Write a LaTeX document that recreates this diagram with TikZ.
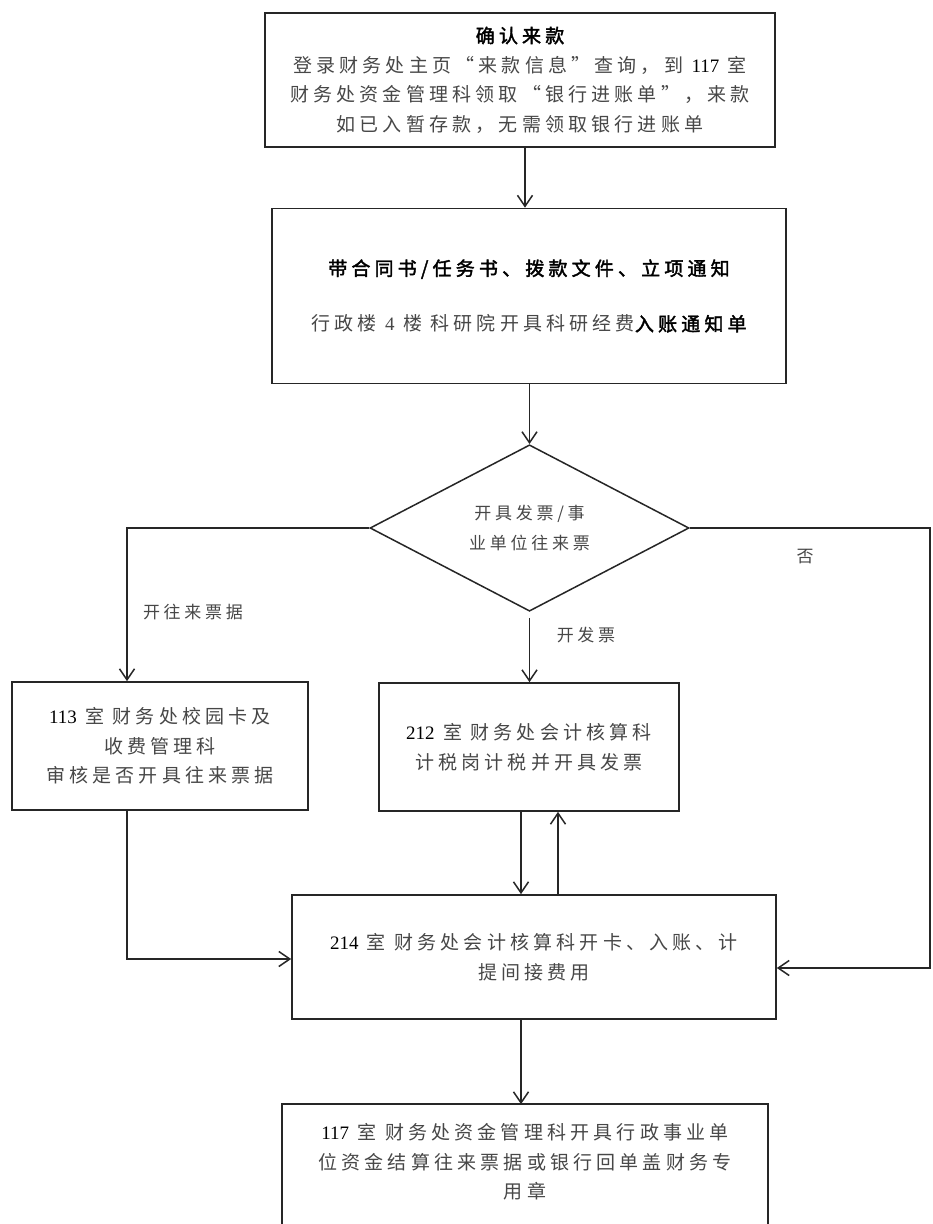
\documentclass[tikz,border=0pt]{standalone}
\usepackage{fontspec}
\setmainfont{Liberation Serif}
\newfontfamily\cjk{Noto Sans CJK SC}[LetterSpace=22]
\newfontfamily\cjkb{Noto Sans CJK SC}[LetterSpace=22,FakeBold=2]
\usetikzlibrary{arrows.meta,shapes.geometric}
\definecolor{txt}{gray}{0.28}
\begin{document}
\begin{tikzpicture}[x=1pt,y=-1pt,
  box/.style={draw=black!85, line width=1.7pt, align=center, inner sep=0pt,
    font=\cjk\fontsize{19}{29.5}\selectfont, text=txt},
  conn/.style={line width=1.5pt, draw=black!85},
  arr/.style={conn, -{Straight Barb[length=11pt,width=15pt]}},
  lbl/.style={font=\cjk\fontsize{17}{20}\selectfont, text=txt}]
\useasboundingbox (0,0) rectangle (933,1224);
\fill[white] (0,0) rectangle (933,1224);

\node[box, minimum width=510, minimum height=134] (b1) at (520,80)
  {{\cjkb\color{black}确认来款}\\
   登录财务处主页“来款信息”查询，到 {\rmfamily\color{black}117} 室\\
   财务处资金管理科领取“银行进账单”，来款\\
   如已入暂存款，无需领取银行进账单};

\node[box, minimum width=514, minimum height=175] (b2) at (529,296)
  {{\cjkb\color{black}带合同书/任务书、拨款文件、立项通知}\\[26pt]
   行政楼 {\rmfamily 4} 楼 科研院开具科研经费{\cjkb\color{black}入账通知单}};

\node[diamond, draw=black!85, line width=1.5pt, minimum width=319, minimum height=143,
  inner sep=0pt, align=center, font=\cjk\fontsize{17}{30}\selectfont, text=txt]
  (d) at (529.5,528) {开具发票/事\\业单位往来票};

\node[box, minimum width=296, minimum height=128] (b3) at (160,746)
  {{\rmfamily\color{black}113} 室 财务处校园卡及\\收费管理科\\审核是否开具往来票据};

\node[box, minimum width=300, minimum height=128] (b4) at (529,747)
  {{\rmfamily\color{black}212} 室 财务处会计核算科\\计税岗计税并开具发票};

\node[box, minimum width=484, minimum height=124] (b5) at (534,957)
  {{\rmfamily\color{black}214} 室 财务处会计核算科开卡、入账、计\\提间接费用};

\node[box, draw=none, minimum width=484, minimum height=114] (b6) at (525,1162)
  {{\rmfamily\color{black}117} 室 财务处资金管理科开具行政事业单\\
   位资金结算往来票据或银行回单盖财务专\\用章};
\coordinate (ybot) at (0,1240);
\draw[draw=black!85, line width=1.7pt] (b6.west |- ybot) -- (b6.north west) -- (b6.north east) -- (b6.east |- ybot);

\node[lbl] (l1) at (193,612) {开往来票据};
\node[lbl] (l2) at (586,635) {开发票};
\node[lbl] (l3) at (805,557) {否};

\coordinate (xa) at (525,0);
\coordinate (xl) at (127,0);
\coordinate (xr) at (930,0);
\coordinate (yr) at (0,968);
\coordinate (yl) at (0,959);
\coordinate (xd) at (521,0);
\coordinate (xu) at (558,0);

\draw[arr] (b1.south -| xa) -- (b2.north -| xa);
\draw[arr] (b2.south -| d.north) -- (d.north);
\draw[arr] (d.west) -- (d.west -| xl) -- (b3.north -| xl);
\draw[arr] ([yshift=-6pt]d.south) -- (b4.north -| d.south);
\draw[arr] (d.east) -- (d.east -| xr) -- (xr |- yr) -- (b5.east |- yr);
\draw[arr] (b4.south -| xd) -- (b5.north -| xd);
\draw[arr] (b5.north -| xu) -- (b4.south -| xu);
\draw[arr] (b3.south -| xl) -- (xl |- yl) -- (b5.west |- yl);
\draw[arr] (b5.south -| xd) -- (b6.north -| xd);
\end{tikzpicture}
\end{document}
